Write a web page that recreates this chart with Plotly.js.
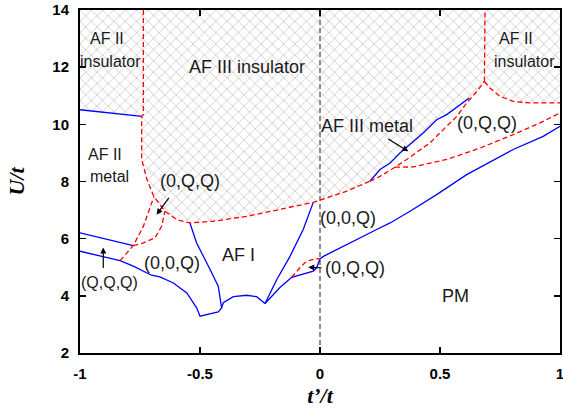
<!DOCTYPE html>
<html>
<head>
<meta charset="utf-8">
<script src="https://cdn.plot.ly/plotly-3.0.1.min.js"></script>
<style>html,body{margin:0;padding:0;background:#fff;}</style>
</head>
<body>
<div id="chart" style="width:563px;height:408px;"></div>
<script>
// Axis ranges and ticks
const xRange = [-1, 1];
const yRange = [2, 14];
const xTicks = [-1, -0.5, 0, 0.5, 1];
const xTickText = ['-1', '-0.5', '0', '0.5', '1'];
const yTicks = [2, 4, 6, 8, 10, 12, 14];

// Blue (solid) phase boundaries
const blueAF2_x = [-1, -0.743];
const blueAF2_y = [10.51, 10.28];
const blueUL_x = [-1, -0.778];
const blueUL_y = [6.2, 5.76];
const blueL_x = [-1, -0.833, -0.778, -0.702, -0.667, -0.611, -0.555, -0.514, -0.5, -0.424, -0.41, -0.403, -0.361, -0.305, -0.264, -0.229];
const blueL_y = [5.56, 5.23, 5.04, 4.72, 4.66, 4.45, 4.10, 3.58, 3.29, 3.44, 3.58, 3.76, 3.97, 4.02, 3.97, 3.73];
const blueAFIL_x = [-0.542, -0.514, -0.458, -0.424, -0.41];
const blueAFIL_y = [6.55, 5.85, 4.92, 4.34, 3.58];
const blueAFIR_x = [-0.229, -0.18, -0.125, -0.07, -0.028];
const blueAFIR_y = [3.73, 4.57, 5.38, 6.32, 7.27];
const blueP_x = [-0.229, -0.167, -0.118, -0.028, -0.014, 0, 0.014, 0.083, 0.167, 0.236, 0.292, 0.375, 0.486, 0.611, 0.805, 0.93, 1.0];
const blueP_y = [3.73, 4.29, 4.65, 4.86, 4.98, 5.29, 5.38, 5.68, 6.03, 6.32, 6.55, 6.96, 7.54, 8.24, 9.12, 9.58, 9.93];
const blueM_x = [0.208, 0.25, 0.292, 0.333, 0.430, 0.486, 0.528, 0.622];
const blueM_y = [8.01, 8.42, 8.65, 9.0, 9.70, 10.16, 10.34, 10.92];

// Red (dashed) boundaries
const redA_x = [-0.736, -0.736, -0.743, -0.743, -0.721, -0.692, -0.646, -0.597, -0.542, -0.445, -0.305, -0.167, -0.028, 0, 0.111, 0.208];
const redA_y = [14, 10.34, 10.28, 8.77, 8.07, 7.47, 6.96, 6.67, 6.55, 6.61, 6.78, 7.02, 7.27, 7.35, 7.66, 8.01];
const redB_x = [0.208, 0.25, 0.3125, 0.361, 0.458, 0.570, 0.611, 0.653, 0.685];
const redB_y = [8.01, 8.18, 8.5, 8.77, 9.35, 10.28, 10.75, 11.15, 11.5];
const redV_x = [0.685, 0.6875];
const redV_y = [11.5, 14];
const redC_x = [0.685, 0.708, 0.75, 0.805, 0.875, 1.0];
const redC_y = [11.5, 11.27, 10.98, 10.80, 10.75, 10.75];
const redD_x = [0.3125, 0.389, 0.528, 0.667, 0.805, 0.917, 1.0];
const redD_y = [8.5, 8.51, 8.77, 9.17, 9.64, 10.05, 10.40];
const redL1_x = [-0.833, -0.778, -0.736, -0.701, -0.692];
const redL1_y = [5.23, 5.76, 6.43, 7.25, 7.47];
const redL2_x = [-0.778, -0.736, -0.6875, -0.66, -0.646];
const redL2_y = [5.76, 5.85, 6.03, 6.43, 6.96];
const redS_x = [-0.118, -0.083, -0.056, -0.014, 0];
const redS_y = [4.65, 4.99, 5.21, 5.30, 5.29];

// Labels
const labelText = ['AF II', 'insulator', 'AF III insulator', 'AF II', 'insulator', 'AF III metal', '(0,Q,Q)', 'AF II', 'metal', '(0,Q,Q)', '(0,0,Q)', 'AF I', '(0,0,Q)', '(0,Q,Q)', 'PM', '(Q,Q,Q)'];
const labelX = [-0.889, -0.871, -0.305, 0.816, 0.854, 0.195, 0.695, -0.896, -0.879, -0.542, -0.615, -0.340, 0.117, 0.146, 0.5625, -0.879];
const labelY = [13.02, 12.2, 12.02, 13.02, 12.2, 9.93, 10.05, 8.94, 8.18, 8.01, 5.15, 5.44, 6.73, 4.98, 3.99, 4.45];
const labelSize = [16, 16, 18, 16, 16, 18, 18, 16, 16, 18, 18, 18, 18, 18, 18, 16];

// Arrows: head (x,y) and tail (ax,ay)
const arrowX = [-0.903, -0.681, 0.368, -0.049];
const arrowY = [5.69, 6.84, 9.06, 5.0];
const arrowAX = [-0.903, -0.625, 0.278, 0.0125];
const arrowAY = [4.92, 7.48, 9.52, 4.98];

const last = a => a[a.length - 1];

// Hatched (insulating) regions built from boundary arrays
const hatchLeft_x = [xRange[0]].concat(blueAF2_x, redA_x.slice(0, 3).reverse());
const hatchLeft_y = [yRange[1]].concat(blueAF2_y, redA_y.slice(0, 3).reverse());
const hatchMid_x = redA_x.concat(blueM_x.slice(1), [last(redB_x)], [last(redV_x)]);
const hatchMid_y = redA_y.concat(blueM_y.slice(1), [last(redB_y)], [last(redV_y)]);
const hatchRight_x = redV_x.concat([xRange[1]], redC_x.slice().reverse());
const hatchRight_y = redV_y.concat([yRange[1]], redC_y.slice().reverse());

const pattern = {shape: 'x', size: 8, solidity: 0.12, fgcolor: '#a6a6a6', bgcolor: '#ffffff', fillmode: 'replace'};
function hatch(x, y) {
  return {x: x, y: y, type: 'scatter', mode: 'none', fill: 'toself', fillcolor: '#ffffff', fillpattern: pattern, hoverinfo: 'skip', showlegend: false};
}
const blueLine = {color: '#0000ff', width: 1.3};
const redLine = {color: '#ff0000', width: 1.3, dash: '5px,3px'};
function line(x, y, style) {
  return {x: x, y: y, type: 'scatter', mode: 'lines', line: style, hoverinfo: 'skip', showlegend: false};
}

const traces = [
  hatch(hatchLeft_x, hatchLeft_y),
  hatch(hatchMid_x, hatchMid_y),
  hatch(hatchRight_x, hatchRight_y),
  line([0, 0], yRange, {color: '#606060', width: 1.4, dash: '5px,3px'}),
  line(blueAF2_x, blueAF2_y, blueLine),
  line(blueUL_x, blueUL_y, blueLine),
  line(blueL_x, blueL_y, blueLine),
  line(blueAFIL_x, blueAFIL_y, blueLine),
  line(blueAFIR_x, blueAFIR_y, blueLine),
  line(blueP_x, blueP_y, blueLine),
  line(blueM_x, blueM_y, blueLine),
  line(redA_x, redA_y, redLine),
  line(redB_x, redB_y, redLine),
  line(redV_x, redV_y, redLine),
  line(redC_x, redC_y, redLine),
  line(redD_x, redD_y, redLine),
  line(redL1_x, redL1_y, redLine),
  line(redL2_x, redL2_y, redLine),
  line(redS_x, redS_y, redLine)
];

const annotations = [];
for (let i = 0; i < labelText.length; i++) {
  annotations.push({x: labelX[i], y: labelY[i], xref: 'x', yref: 'y', text: labelText[i], showarrow: false,
    font: {family: 'Liberation Sans, Arial, sans-serif', size: labelSize[i], color: '#1a1a1a'}});
}
for (let i = 0; i < arrowX.length; i++) {
  annotations.push({x: arrowX[i], y: arrowY[i], ax: arrowAX[i], ay: arrowAY[i], axref: 'x', ayref: 'y', xref: 'x', yref: 'y',
    text: '', showarrow: true, arrowhead: 2, arrowsize: 1, arrowwidth: 1.2, arrowcolor: '#000000', standoff: 0, startstandoff: 0});
}

const axisCommon = {
  showgrid: false, zeroline: false, showline: true, linecolor: '#000', linewidth: 2, mirror: 'ticks',
  ticks: 'inside', ticklen: 6, tickwidth: 1.5, tickcolor: '#000', ticklabeloverflow: 'allow',
  tickfont: {family: 'Liberation Sans, Arial, sans-serif', size: 15, color: '#000', weight: 'bold'}
};

const layout = {
  width: 563, height: 408,
  margin: {l: 80, r: 3, t: 10, b: 55},
  paper_bgcolor: '#fff', plot_bgcolor: '#fff',
  xaxis: Object.assign({}, axisCommon, {range: xRange, tickvals: xTicks, ticktext: xTickText, ticklabelstandoff: 6,
    title: {text: 't\u2019/t', standoff: 10, font: {family: 'Liberation Serif, Times New Roman, serif', size: 22, style: 'italic', weight: 'bold', color: '#000'}}}),
  yaxis: Object.assign({}, axisCommon, {range: yRange, tickvals: yTicks, ticklabelstandoff: 6,
    title: {text: 'U/t', standoff: 22, font: {family: 'Liberation Serif, Times New Roman, serif', size: 22, style: 'italic', weight: 'bold', color: '#000'}}}),
  annotations: annotations,
  showlegend: false
};

Plotly.newPlot('chart', traces, layout, {staticPlot: true, displayModeBar: false});
</script>
</body>
</html>
